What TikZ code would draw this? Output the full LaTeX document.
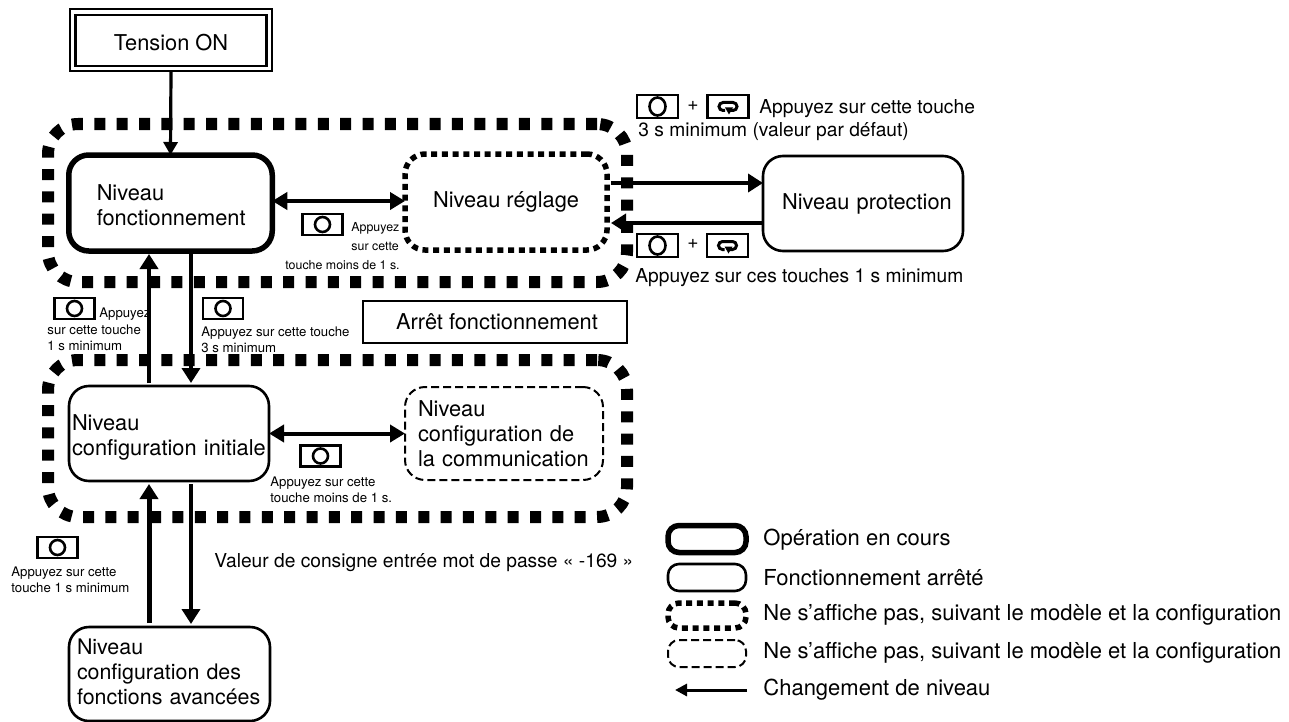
\documentclass[tikz,border=0pt]{standalone}
\usepackage{fontspec}
\setmainfont{TeX Gyre Heros}
\usetikzlibrary{arrows.meta,shapes.geometric}
\newlength{\du}
\setlength{\du}{0.5pt}
\tikzset{
  zonedots/.style={draw,rounded corners=30\du,line width=12\du,dash pattern=on 11\du off 11.35\du,inner sep=0pt,outer sep=0pt},
  plainbox/.style={draw,rounded corners=20\du,line width=2.6\du,inner sep=0pt,outer sep=0pt,font=\mainsize,align=left},
  runbox/.style={plainbox,line width=5.5\du},
  finedots/.style={plainbox,line width=5.5\du,dash pattern=on 6\du off 4.7\du},
  finedash/.style={plainbox,line width=2\du,dash pattern=on 8\du off 4\du},
  framebox/.style={draw,line width=2.6\du,inner sep=0pt,outer sep=0pt,font=\mainsize},
  oneway/.style={line width=4.5\du,-{Triangle[length=7.5pt,width=9pt]}},
  twoway/.style={line width=4\du,{Triangle[length=7.5pt,width=8.5pt]}-{Triangle[length=7.5pt,width=8.5pt]}},
  keybox/.style={draw,line width=2.6\du,minimum width=40\du,minimum height=21\du,inner sep=0pt,outer sep=0pt},
  keyring/.style={draw,ellipse,line width=2.6\du,minimum width=15\du,minimum height=15\du,inner sep=0pt},
  tinytext/.style={anchor=west,inner sep=0pt,align=left,font=\tinysize},
  narrowtext/.style={tinytext,font=\fontsize{6.2}{9}\selectfont},
  keytext/.style={anchor=west,inner sep=0pt,align=left,font=\keysize},
  pluslabel/.style={inner sep=0pt,font=\keysize},
  legendtext/.style={anchor=west,inner sep=0pt,font=\fontsize{11}{13}\selectfont},
  legendbox/.style={minimum width=78\du,minimum height=#1\du,rounded corners=11\du}
}
\newcommand{\mainsize}{\fontsize{10.9}{12.5}\selectfont}
\newcommand{\keysize}{\fontsize{9.6}{12}\selectfont}
\newcommand{\tinysize}{\fontsize{6.6}{8}\selectfont}
% touche ronde et touche boucle
\newcommand{\ringkey}[2]{\node[keybox] (#1) at (#2) {}; \node[keyring] (#1ring) at (#1) {};}
\newcommand{\tallkey}[2]{\node[keybox,minimum width=41\du,minimum height=23\du] (#1) at (#2) {}; \node[keyring,minimum width=16\du,minimum height=18\du] (#1ring) at (#1) {};}
\newcommand{\loopkey}[2]{\node[keybox,minimum width=41\du,minimum height=23\du] (#1) at (#2) {};
  \draw[line width=3\du] (#1.center) ++(-3\du,4\du) -- ++(-2\du,0) arc[start angle=90,end angle=270,radius=4\du] -- ++(10\du,0) arc[start angle=270,end angle=450,radius=4\du] -- ++(-3\du,0);
  \fill (#1.center) ++(-3\du,1\du) -- ++(8\du,0) -- ++(-4\du,7\du) -- cycle;}

\begin{document}
\begin{tikzpicture}
\pgftransformyscale{-1.000000}
\useasboundingbox (0\du,0\du) rectangle (1289\du,722\du);
% zones
\node[zonedots,minimum width=579\du,minimum height=158\du] (runzone) at (337.5\du,203\du) {};
\node[zonedots,minimum width=579\du,minimum height=157\du] (stopzone) at (337.5\du,438.5\du) {};
% niveaux
\node[framebox,minimum width=202\du,minimum height=62\du] (poweron) at (171\du,40\du) {\raisebox{-11\du}[0pt][0pt]{Tension ON}};
\node[draw,line width=2.6\du,minimum width=191\du,minimum height=51\du,inner sep=0pt] (poweroninner) at (171\du,40.5\du) {};
\node[runbox,inner xsep=28\du,text width=147.5\du,minimum height=96\du] (runlevel) at (170.5\du,203\du) {\rule{0pt}{20\du}Niveau\\fonctionnement};
\node[finedots,minimum width=202\du,minimum height=96\du,align=center] (adjlevel) at (506\du,202\du) {Niveau réglage};
\node[plainbox,inner xsep=19\du,text width=162\du,minimum height=95\du] (protlevel) at (863\du,203.5\du) {\mbox{Niveau protection}};
\node[framebox,minimum width=264\du,minimum height=42\du] (stoplabel) at (495\du,322\du) {\hspace*{4\du}Arrêt fonctionnement};
\node[plainbox,inner xsep=3\du,text width=194\du,minimum height=95\du] (initlevel) at (169\du,433.5\du) {\rule{0pt}{24\du}Niveau\\\mbox{configuration initiale}};
\node[finedash,inner xsep=13\du,text width=172\du,minimum height=93\du] (commlevel) at (504\du,433.5\du) {Niveau\\\mbox{configuration de}\\\mbox{la communication}};
\node[plainbox,inner xsep=8\du,text width=185\du,minimum height=94\du,font=\fontsize{10.7}{12.4}\selectfont] (advlevel) at (169.5\du,674\du) {Niveau\\\mbox{configuration des}\\\mbox{fonctions avancées}\vspace{4\du}};
% colonnes des fleches
\coordinate (upline) at (149\du,0\du);
\coordinate (downline) at (191\du,0\du);
\coordinate (toprow) at (0\du,183\du);
\coordinate (lowrow) at (0\du,223\du);
\coordinate (dblrow) at (0\du,201\du);
\draw[line width=3.2\du,-{Triangle[length=6.5pt,width=7pt]}] (poweron.south) -- (runlevel.north);
\draw[twoway] (runlevel.east |- dblrow) -- (adjlevel.west |- dblrow);
\draw[oneway] ([xshift=4\du]adjlevel.east |- toprow) -- (protlevel.west |- toprow);
\draw[oneway] (protlevel.west |- lowrow) -- ([xshift=4\du]adjlevel.east |- lowrow);
\draw[oneway] ([yshift=-3\du]initlevel.north -| upline) -- ([yshift=3\du]runlevel.south -| upline);
\draw[oneway,line width=4\du] ([yshift=3\du]runlevel.south -| downline) -- ([yshift=-3\du]initlevel.north -| downline);
\draw[twoway] (initlevel.east) -- (commlevel.west);
\draw[oneway,line width=5\du] ([yshift=-4\du]advlevel.north -| upline) -- ([yshift=3\du]initlevel.south -| upline);
\draw[oneway,line width=4\du] ([yshift=3\du]initlevel.south -| downline) -- ([yshift=-3\du]advlevel.north -| downline);
% touches et textes
\ringkey{runkey}{322.5\du,224.5\du}
\node[narrowtext] (runtxt) at (351\du,228\du) {Appuyez};
\node[narrowtext] (runtxtb) at (351\du,246\du) {sur cette};
\node[narrowtext] (runtxtc) at (285\du,265\du) {touche moins de 1 s.};
\tallkey{protkeya}{657.5\du,106.5\du}
\node[pluslabel] (plusa) at (693\du,106\du) {+};
\loopkey{protkeyb}{728\du,106.5\du}
\node[keytext] (prottxt) at (759\du,109\du) {Appuyez sur cette touche};
\node[keytext] (prottxtb) at (638\du,132\du) {3 s minimum (valeur par défaut)};
\tallkey{backkeya}{657.5\du,245.5\du}
\node[pluslabel] (plusb) at (693\du,244\du) {+};
\loopkey{backkeyb}{727.5\du,245.5\du}
\node[keytext] (backtxt) at (635\du,278\du) {Appuyez sur ces touches 1 s minimum};
\ringkey{upkey}{74.5\du,308.5\du}
\node[tinytext] (uptxt) at (99\du,314\du) {Appuyez};
\node[tinytext] (uptxtb) at (47\du,338\du) {sur cette touche\\1 s minimum};
\ringkey{downkey}{223\du,308.5\du}
\node[tinytext] (downtxt) at (201\du,340\du) {Appuyez sur cette touche\\3 s minimum};
\ringkey{initkey}{320.5\du,456\du}
\node[tinytext] (inittxt) at (270\du,490\du) {Appuyez sur cette\\touche moins de 1 s.};
\ringkey{advkey}{57.5\du,547.5\du}
\node[tinytext] (advtxt) at (11\du,580\du) {Appuyez sur cette\\touche 1 s minimum};
\node[keytext] (pwdtxt) at (214\du,563\du) {Valeur de consigne entrée mot de passe « -169 »};
% legende
\node[runbox,legendbox=27] (legrun) at (707\du,539\du) {};
\node[plainbox,legendbox=27] (legstop) at (707\du,577.5\du) {};
\node[finedots,legendbox=25] (legdots) at (707\du,615.5\du) {};
\node[finedash,legendbox=27] (legdash) at (707\du,653.5\du) {};
\coordinate (legright) at (747\du,690\du);
\coordinate (legleft) at (675\du,690\du);
\draw[line width=3\du,-{Triangle[length=6pt,width=6pt]}] (legright) -- (legleft);
\node[legendtext] (legruntxt) at (763\du,540\du) {Opération en cours};
\node[legendtext] (legstoptxt) at (763\du,578\du) {Fonctionnement arrêté};
\node[legendtext] (legdotstxt) at (763\du,615\du) {Ne s'affiche pas, suivant le modèle et la configuration};
\node[legendtext] (legdashtxt) at (763\du,653\du) {Ne s'affiche pas, suivant le modèle et la configuration};
\node[legendtext] (legmovetxt) at (763\du,690\du) {Changement de niveau};
\end{tikzpicture}
\end{document}
